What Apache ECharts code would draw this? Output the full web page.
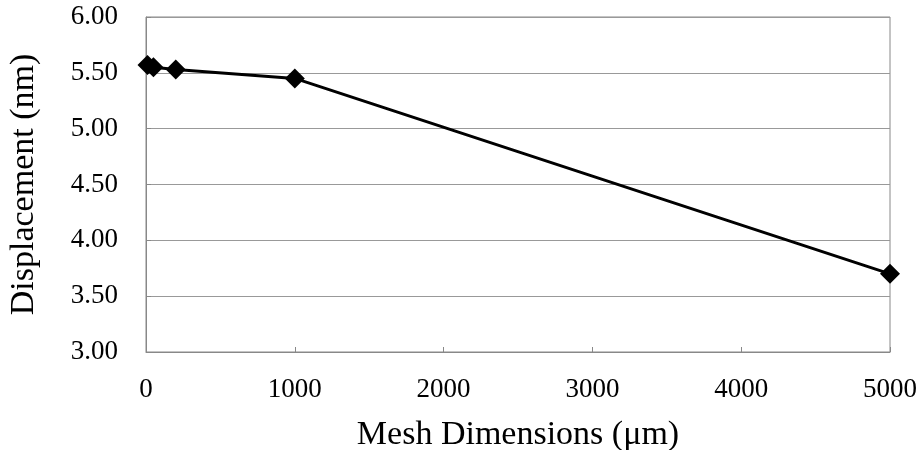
<!DOCTYPE html>
<html><head><meta charset="utf-8">
<script src="https://cdn.jsdelivr.net/npm/echarts@6/dist/echarts.min.js"></script>
<style>html,body{margin:0;padding:0;background:#fff}#c{width:922px;height:450px}</style>
</head><body><div id="c"></div>
<script>
const meshX = [10, 50, 200, 1000, 5000];
const displacement = [5.57, 5.55, 5.53, 5.45, 3.70];
const xTitle = 'Mesh Dimensions (μm)';
const yTitle = 'Displacement (nm)';

const chart = echarts.init(document.getElementById('c'));
const font = '"Liberation Serif","Times New Roman",serif';
chart.setOption({
  animation: false,
  grid: {left: 146, right: 32, top: 17, bottom: 98, show: true, borderColor: '#888', borderWidth: 1,
         containLabel: false, outerBoundsMode: 'none'},
  xAxis: {
    type: 'value', min: 0, max: 5000, interval: 1000,
    name: xTitle, nameLocation: 'middle', nameGap: 66,
    nameTextStyle: {fontFamily: font, fontSize: 34, color: '#000'},
    axisLine: {lineStyle: {color: '#888'}},
    axisTick: {inside: true, length: 5, lineStyle: {color: '#888'}},
    axisLabel: {fontFamily: font, fontSize: 27, color: '#000', margin: 24, formatter: v => String(v)},
    splitLine: {show: false}
  },
  yAxis: {
    type: 'value', min: 3, max: 6, interval: 0.5,
    name: yTitle, nameLocation: 'middle', nameGap: 105,
    nameTextStyle: {fontFamily: font, fontSize: 34, color: '#000'},
    axisLine: {show: true, lineStyle: {color: '#888'}},
    axisTick: {show: true, inside: true, length: 5, lineStyle: {color: '#888'}},
    axisLabel: {fontFamily: font, fontSize: 27, color: '#000', margin: 28, formatter: v => v.toFixed(2)},
    splitLine: {show: true, lineStyle: {color: '#999', width: 1}}
  },
  series: [{
    type: 'line',
    data: meshX.map((x, i) => [x, displacement[i]]),
    symbol: 'diamond', symbolSize: 20,
    lineStyle: {color: '#000', width: 3},
    itemStyle: {color: '#000'}
  }]
});
</script></body></html>
